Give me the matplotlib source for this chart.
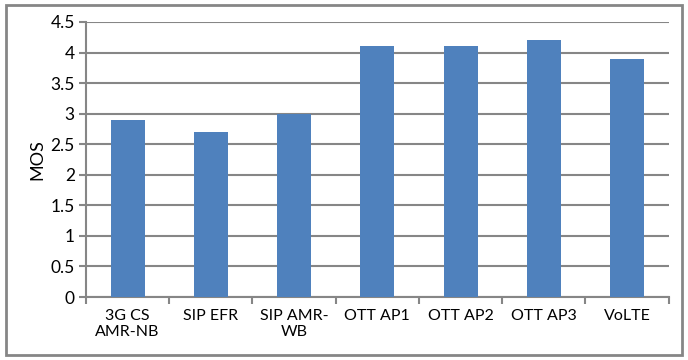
import numpy as np
import matplotlib.pyplot as plt
from matplotlib.patches import Rectangle

categories = ["3G CS\nAMR-NB", "SIP EFR", "SIP AMR-\nWB", "OTT AP1", "OTT AP2", "OTT AP3", "VoLTE"]
mos = [2.9, 2.7, 3.0, 4.1, 4.1, 4.2, 3.9]
yticks = [0, 0.5, 1, 1.5, 2, 2.5, 3, 3.5, 4, 4.5]
ytick_labels = ["0", "0.5", "1", "1.5", "2", "2.5", "3", "3.5", "4", "4.5"]

GRID = "#868686"
BAR = "#4f81bd"

plt.rcParams['font.family'] = ['Lato', 'DejaVu Sans']

fig = plt.figure(figsize=(6.88, 3.6), dpi=100)
ax = fig.add_axes([0.125, 0.175, 0.847, 0.764])

x = np.arange(len(categories))
ax.bar(x, mos, width=0.41, color=BAR, zorder=3)

ax.set_ylim(0, 4.5)
ax.set_xlim(-0.5, len(categories) - 0.5)
ax.set_yticks(yticks)
ax.set_yticklabels(ytick_labels, fontsize=12.5)
ax.yaxis.grid(True, color=GRID, linewidth=1.5, zorder=0)
ax.set_axisbelow(True)

# category labels centred, tick marks on boundaries
ax.set_xticks(x)
ax.set_xticklabels(categories, fontsize=11.5, linespacing=1.15)
ax.tick_params(axis='x', length=0, pad=9)
ax.set_xticks(np.arange(-0.5, len(categories)), minor=True)
ax.tick_params(axis='x', which='minor', length=5, width=1.5, color=GRID)
ax.tick_params(axis='y', length=5, width=1.5, color=GRID, pad=3)

for s in ["top", "right"]:
    ax.spines[s].set_visible(False)
for s in ["left", "bottom"]:
    ax.spines[s].set_color(GRID)
    ax.spines[s].set_linewidth(1.5)

ax.set_ylabel("MOS", fontsize=13, labelpad=4)

fig.patches.append(Rectangle((0.008, 0.014), 0.984, 0.972, transform=fig.transFigure,
                             fill=False, edgecolor=GRID, linewidth=2))

fig.savefig("out.png", dpi=100)
